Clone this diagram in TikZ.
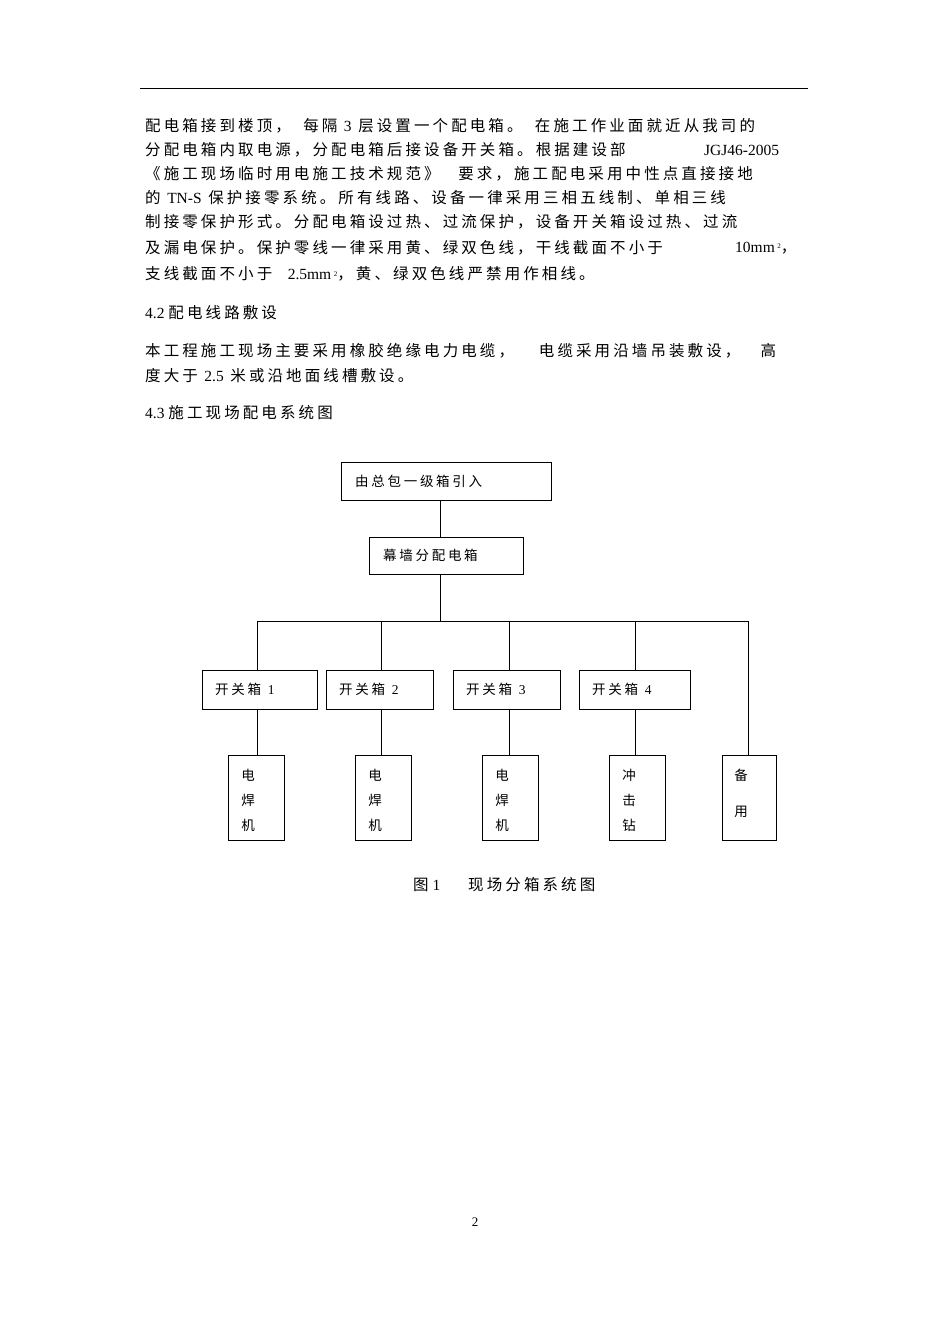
\documentclass[tikz,border=0pt]{standalone}
\usepackage{fontspec}
\setmainfont{Liberation Serif}
\newfontfamily\cjk[LetterSpace=20]{Noto Sans CJK SC}
\begin{document}
\begin{tikzpicture}[x=1pt,y=-1pt,
  bx/.style={draw,line width=0.9pt,minimum height=38pt,inner sep=0pt},
  vb/.style={draw,line width=0.9pt,minimum width=56pt,minimum height=85pt,inner sep=0pt},
  ln/.style={line width=0.9pt},
  tx/.style={anchor=west,inner sep=0pt,font=\fontsize{15.5pt}{17pt}\selectfont},
  dt/.style={font=\fontsize{13.5pt}{15pt}\selectfont}]
\useasboundingbox (0,0) rectangle (950,1344);
\draw[line width=0.6pt] (140,88) -- (808,88);
% paragraph text
\node[tx] (l1) at (145,126) {\cjk 配电箱接到楼顶，\hspace{0.8em}每隔 {\rmfamily 3} 层设置一个配电箱。\hspace{0.8em}在施工作业面就近从我司的};
\node[tx] (l2) at (145,150) {\cjk 分配电箱内取电源，分配电箱后接设备开关箱。根据建设部};
\node[tx] (l2b) at (704,150) {JGJ46-2005};
\node[tx] (l3) at (145,174) {\cjk 《施工现场临时用电施工技术规范》\hspace{1.2em}要求，施工配电采用中性点直接接地};
\node[tx] (l4) at (145,198) {\cjk 的 {\rmfamily TN-S} 保护接零系统。所有线路、设备一律采用三相五线制、单相三线};
\node[tx] (l5) at (145,222) {\cjk 制接零保护形式。分配电箱设过热、过流保护，设备开关箱设过热、过流};
\node[tx] (l6) at (145,248) {\cjk 及漏电保护。保护零线一律采用黄、绿双色线，干线截面不小于};
\node[tx] (l6b) at (735,248) {10mm\,\raisebox{0.5ex}{\scriptsize 2}{\cjk ，}};
\node[tx] (l7) at (145,274) {\cjk 支线截面不小于\hspace{1em}{\rmfamily 2.5mm\,\raisebox{0.5ex}{\scriptsize 2}}，黄、绿双色线严禁用作相线。};
\node[tx] (h1) at (145,313) {4.2 {\cjk 配电线路敷设}};
\node[tx] (l8) at (145,351) {\cjk 本工程施工现场主要采用橡胶绝缘电力电缆，\hspace{1.6em}电缆采用沿墙吊装敷设，\hspace{1.3em}高};
\node[tx] (l9) at (145,376) {\cjk 度大于 {\rmfamily 2.5} 米或沿地面线槽敷设。};
\node[tx] (h2) at (145,413) {4.3 {\cjk 施工现场配电系统图}};
% diagram
\node[bx,minimum width=210pt,anchor=north west] (top) at (341,462) {};
\node[tx,dt] (topt) at (355,481) {\cjk 由总包一级箱引入};
\node[bx,minimum width=154pt,minimum height=37pt,anchor=north west] (mid) at (369,537) {};
\node[tx,dt] (midt) at (383,555) {\cjk 幕墙分配电箱};
\coordinate (a) at (440,500); \coordinate (b) at (440,537);
\draw[ln] (a) -- (b);
\coordinate (c) at (440,574); \coordinate (d) at (440,621);
\draw[ln] (c) -- (d);
\coordinate (hl) at (257,621); \coordinate (hr) at (748,621);
\draw[ln] (hl) -- (hr);
\foreach \n/\xl/\w/\cx/\k in {s1/202/115/257/1,s2/326/107/381/2,s3/453/107/509/3,s4/579/111/635/4}{
  \node[bx,minimum width=\w pt,minimum height=39pt,anchor=north west] (\n) at (\xl,670) {};
  \node[tx,dt] (\n t) at (\xl+13,689) {\cjk 开关箱\hspace{0.5em}{\rmfamily \k}};
  \draw[ln] (\cx,621) -- (\cx,670);
  \draw[ln] (\cx,709) -- (\cx,755);
}
\draw[ln] (748,621) -- (748,755);
\foreach \n/\xl/\ca/\cb/\cc in {e1/228/电/焊/机,e2/355/电/焊/机,e3/482/电/焊/机,e4/609/冲/击/钻}{
  \node[vb,anchor=north west] (\n) at (\xl,755) {};
  \node[dt,inner sep=0pt] (\n a) at (\xl+20,775) {\cjk \ca};
  \node[dt,inner sep=0pt] (\n b) at (\xl+20,800) {\cjk \cb};
  \node[dt,inner sep=0pt] (\n c) at (\xl+20,825) {\cjk \cc};
}
\node[vb,minimum width=54pt,anchor=north west] (e5) at (722,755) {};
\node[dt,inner sep=0pt] (e5a) at (741,775) {\cjk 备};
\node[dt,inner sep=0pt] (e5b) at (741,812) {\cjk 用};
\node[tx] (cap) at (413,885) {{\cjk 图} 1\hspace{1.8em}{\cjk 现场分箱系统图}};
\node[font=\fontsize{13pt}{15pt}\selectfont] (pg) at (475,1222) {2};
\end{tikzpicture}
\end{document}
